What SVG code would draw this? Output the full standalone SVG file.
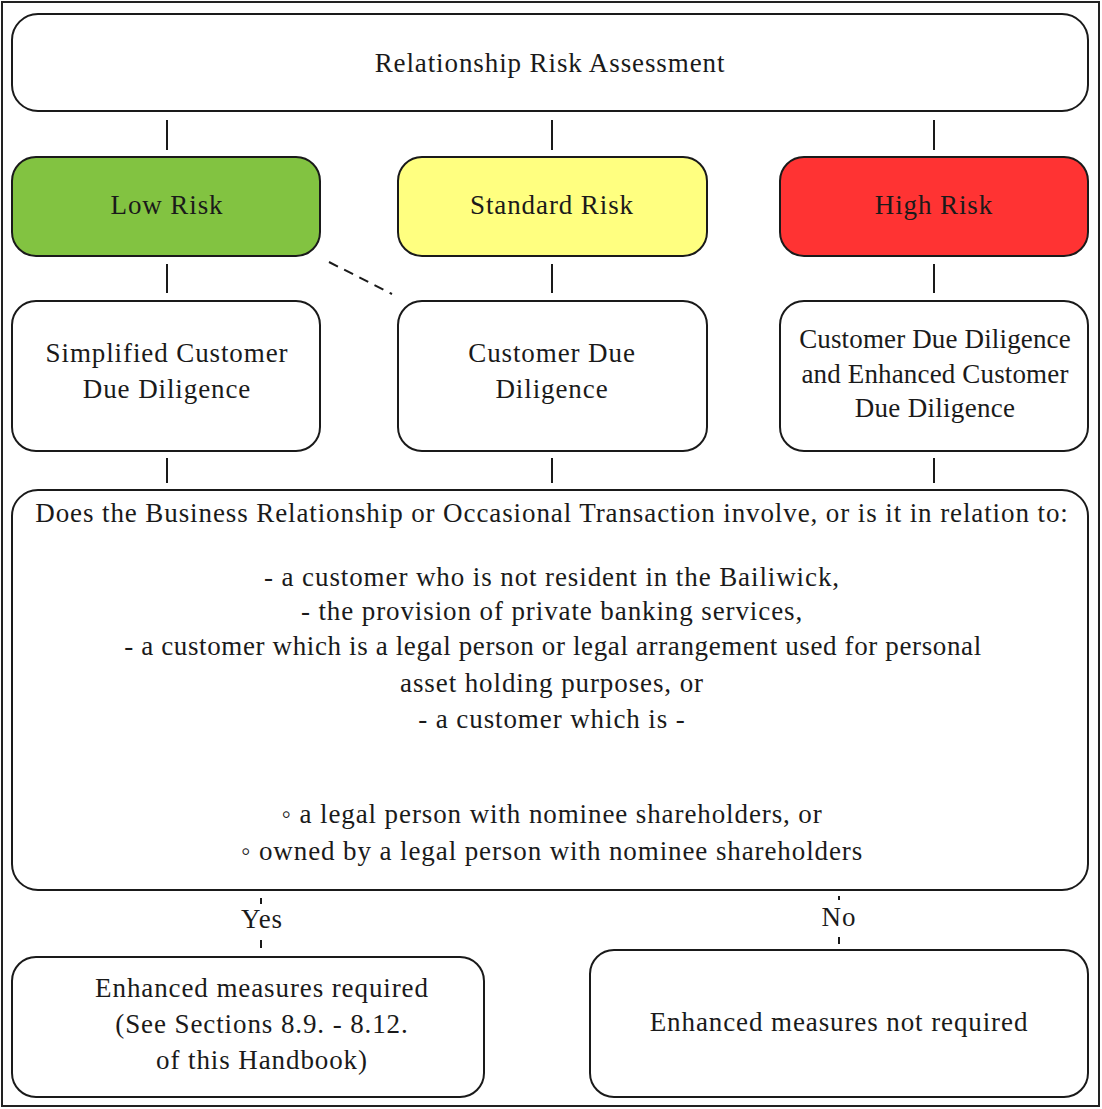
<svg xmlns="http://www.w3.org/2000/svg" width="1102" height="1109" viewBox="0 0 1102 1109">
<style>
.box{fill:#fff;stroke:#1a1a1a;stroke-width:2}
.t{font-family:"Liberation Serif","Times New Roman",serif;font-size:27px;letter-spacing:0.9px;fill:#1a1a1a;text-anchor:middle}
.c{stroke:#1a1a1a;stroke-width:2;fill:none}
</style>
<rect x="0" y="0" width="1102" height="1109" fill="#fff"/>
<rect x="2" y="2" width="1097" height="1104" fill="none" stroke="#222" stroke-width="2"/>
<g id="connectors">
<line class="c" x1="167" y1="120" x2="167" y2="150"/>
<line class="c" x1="552" y1="120" x2="552" y2="150"/>
<line class="c" x1="934" y1="120" x2="934" y2="150"/>
<line class="c" x1="167" y1="264" x2="167" y2="293"/>
<line class="c" x1="552" y1="264" x2="552" y2="293"/>
<line class="c" x1="934" y1="264" x2="934" y2="293"/>
<line class="c" x1="329" y1="262" x2="392" y2="294" stroke-dasharray="10,7"/>
<line class="c" x1="167" y1="458" x2="167" y2="483"/>
<line class="c" x1="552" y1="458" x2="552" y2="483"/>
<line class="c" x1="934" y1="458" x2="934" y2="483"/>
<line class="c" x1="261" y1="898" x2="261" y2="904" stroke-width="1.5"/>
<line class="c" x1="261" y1="940" x2="261" y2="948" stroke-width="1.5"/>
<text class="t" x="262" y="928">Yes</text>
<line class="c" x1="839" y1="896" x2="839" y2="900" stroke-width="1.5"/>
<line class="c" x1="839" y1="937" x2="839" y2="944" stroke-width="1.5"/>
<text class="t" x="839" y="926">No</text>
</g>
<g id="assessment">
<rect class="box" x="12" y="14" width="1076" height="97" rx="26"/>
<text class="t" x="550" y="72">Relationship Risk Assessment</text>
</g>
<g id="low-risk">
<rect class="box" x="12" y="157" width="308" height="99" rx="24" style="fill:#82c341"/>
<text class="t" x="167" y="214">Low Risk</text>
</g>
<g id="standard-risk">
<rect class="box" x="398" y="157" width="309" height="99" rx="24" style="fill:#ffff80"/>
<text class="t" x="552" y="214">Standard Risk</text>
</g>
<g id="high-risk">
<rect class="box" x="780" y="157" width="308" height="99" rx="24" style="fill:#ff3333"/>
<text class="t" x="934" y="214">High Risk</text>
</g>
<g id="simplified-cdd">
<rect class="box" x="12" y="301" width="308" height="150" rx="24"/>
<text class="t" x="167" y="362">Simplified Customer</text>
<text class="t" x="167" y="398">Due Diligence</text>
</g>
<g id="cdd">
<rect class="box" x="398" y="301" width="309" height="150" rx="24"/>
<text class="t" x="552" y="362">Customer Due</text>
<text class="t" x="552" y="398">Diligence</text>
</g>
<g id="edd">
<rect class="box" x="780" y="301" width="308" height="150" rx="24"/>
<text class="t" x="935" y="348" style="letter-spacing:0.15px">Customer Due Diligence</text>
<text class="t" x="935" y="383" style="letter-spacing:0.15px">and Enhanced Customer</text>
<text class="t" x="935" y="417" style="letter-spacing:0.3px">Due Diligence</text>
</g>
<g id="question">
<rect class="box" x="12" y="490" width="1076" height="400" rx="26"/>
<text class="t" x="552" y="522">Does the Business Relationship or Occasional Transaction involve, or is it in relation to:</text>
<text class="t" x="552" y="586">- a customer who is not resident in the Bailiwick,</text>
<text class="t" x="552" y="620">- the provision of private banking services,</text>
<text class="t" x="553" y="655" style="letter-spacing:0.63px">- a customer which is a legal person or legal arrangement used for personal</text>
<text class="t" x="552" y="692">asset holding purposes, or</text>
<text class="t" x="552" y="728">- a customer which is -</text>
<text class="t" x="552" y="823">◦ a legal person with nominee shareholders, or</text>
<text class="t" x="552" y="860">◦ owned by a legal person with nominee shareholders</text>
</g>
<g id="yes-result">
<rect class="box" x="12" y="957" width="472" height="140" rx="24"/>
<text class="t" x="262" y="997">Enhanced measures required</text>
<text class="t" x="262" y="1033">(See Sections 8.9. - 8.12.</text>
<text class="t" x="262" y="1069">of this Handbook)</text>
</g>
<g id="no-result">
<rect class="box" x="590" y="950" width="498" height="147" rx="24"/>
<text class="t" x="839" y="1031">Enhanced measures not required</text>
</g>
</svg>
